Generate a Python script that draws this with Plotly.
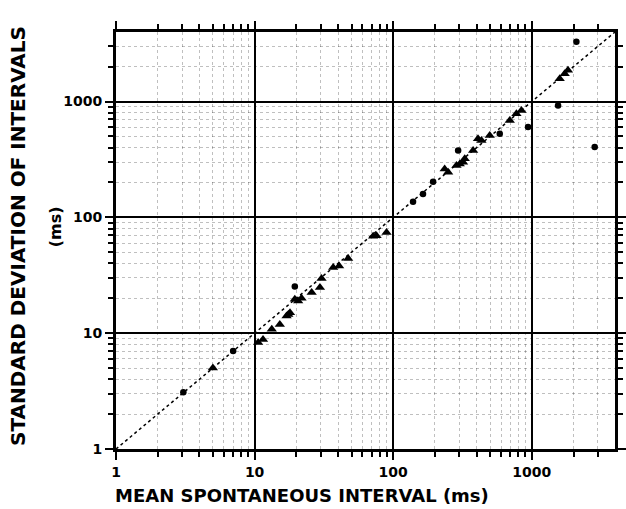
import plotly.graph_objects as go

# Data (mean interval, SD) in ms
tri_x = [5.0, 10.6, 11.5, 13.3, 15.2, 17.0, 17.5, 18.0, 19.5, 20.6, 21.8, 25.8, 29.6, 30.4,
         36.9, 40.7, 47.3, 71.6, 75.8, 89.5, 235, 249, 286, 302, 319, 328, 377, 409, 433, 497,
         693, 774, 841, 1589, 1726, 1822]
tri_y = [5.0, 8.3, 8.8, 10.8, 11.9, 14.1, 14.5, 15.0, 19.6, 19.0, 20.0, 22.4, 24.8, 29.6,
         36.9, 38.1, 44.2, 68.5, 69.3, 74.1, 262, 245, 280, 289, 299, 320, 377, 476, 461, 509,
         686, 784, 838, 1574, 1738, 1858]
circ_x = [3.06, 7.0, 19.5, 139, 164, 194, 294, 587, 939, 1546, 2096, 2840]
circ_y = [3.09, 7.0, 25.3, 136, 159, 203, 377, 526, 601, 925, 3275, 404]

identity = [1, 4000]
major_ticks = [1, 10, 100, 1000]
major_text = ["1", "10", "100", "1000"]
minor_ticks = [2, 3, 4, 5, 6, 7, 8, 9, 20, 30, 40, 50, 60, 70, 80, 90,
               200, 300, 400, 500, 600, 700, 800, 900, 2000, 3000, 4000]

FONT = "DejaVu Sans"

fig = go.Figure()
fig.add_trace(go.Scatter(x=identity, y=identity, mode="lines",
                         line=dict(color="black", width=1.5, dash="dot"),
                         hoverinfo="skip", showlegend=False))
fig.add_trace(go.Scatter(x=tri_x, y=tri_y, mode="markers",
                         marker=dict(symbol="triangle-up", size=9, color="black"),
                         showlegend=False))
fig.add_trace(go.Scatter(x=circ_x, y=circ_y, mode="markers",
                         marker=dict(symbol="circle", size=6.5, color="black"),
                         showlegend=False))

axis_common = dict(
    type="log",
    range=[0, 3.6],
    automargin=False,
    tickvals=major_ticks,
    ticktext=major_text,
    ticks="outside",
    ticklen=8,
    tickwidth=2,
    tickcolor="black",
    showline=True,
    linewidth=3,
    linecolor="black",
    mirror="ticks",
    showgrid=True,
    gridcolor="black",
    gridwidth=2,
    zeroline=False,
    tickfont=dict(family=FONT, size=14, color="black", weight="bold"),
    minor=dict(tickvals=minor_ticks, ticks="outside", ticklen=5, tickwidth=2,
               tickcolor="black", showgrid=True, gridcolor="rgba(0,0,0,0.25)",
               gridwidth=1, griddash="dot"),
)

fig.update_xaxes(**axis_common)
fig.update_yaxes(**axis_common)

fig.update_layout(
    width=626, height=509,
    margin=dict(l=116, r=11, t=32, b=60, autoexpand=False),
    paper_bgcolor="white",
    plot_bgcolor="white",
    showlegend=False,
    annotations=[
        dict(text="MEAN SPONTANEOUS INTERVAL (ms)", xref="paper", yref="paper",
             x=0.373, y=-0.112, xanchor="center", yanchor="middle", showarrow=False,
             font=dict(family=FONT, size=18, color="black", weight="bold")),
        dict(text="STANDARD DEVIATION OF INTERVALS", xref="paper", yref="paper",
             x=-0.195, y=0.51, xanchor="center", yanchor="middle", showarrow=False,
             textangle=-90,
             font=dict(family=FONT, size=20, color="black", weight="bold")),
        dict(text="(ms)", xref="paper", yref="paper",
             x=-0.122, y=0.532, xanchor="center", yanchor="middle", showarrow=False,
             textangle=-90,
             font=dict(family=FONT, size=16, color="black", weight="bold")),
    ],
)

fig.write_html("out.html")
